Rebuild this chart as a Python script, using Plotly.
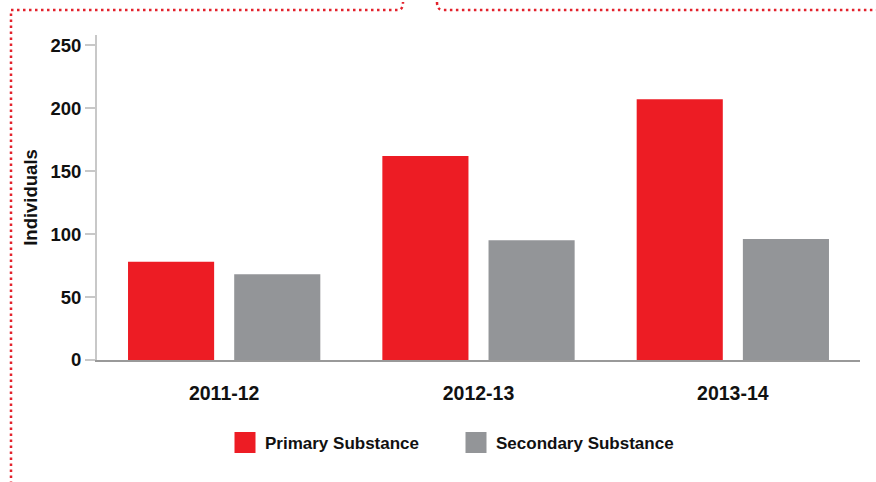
import plotly.graph_objects as go

categories = ["2011-12", "2012-13", "2013-14"]
primary = [78, 162, 207]
secondary = [68, 95, 96]
series_names = ["Primary Substance", "Secondary Substance"]
y_ticks = [0, 50, 100, 150, 200, 250]

RED = "#ed1c24"
GRAY = "#939598"
FONT = "Liberation Sans, Arial, sans-serif"

W, H = 876, 482
L, R, T, B = 97, 16, 35, 122
PW, PH = W - L - R, H - T - B


def px(x):
    return (x - L) / PW


def py(y):
    return (H - B - y) / PH


fig = go.Figure()
fig.add_trace(go.Bar(x=categories, y=primary, name=series_names[0],
                     marker=dict(color=RED, line=dict(width=0)), showlegend=False))
fig.add_trace(go.Bar(x=categories, y=secondary, name=series_names[1],
                     marker=dict(color=GRAY, line=dict(width=0)), showlegend=False))
# legend proxies (larger square swatches)
for name, col in zip(series_names, [RED, GRAY]):
    fig.add_trace(go.Scatter(x=[categories[0]], y=[None], mode="markers", name=name,
                             marker=dict(symbol="square", size=16, color=col,
                                         line=dict(color=col, width=5))))

# dotted frame
frame_left = (f"M {px(11)},{py(490)} L {px(11)},{py(10)} L {px(399)},{py(10)} "
              f"Q {px(403)},{py(9)} {px(403)},{py(2)}")
frame_right = (f"M {px(437)},{py(2)} Q {px(437)},{py(10)} {px(443)},{py(10)} "
               f"L {px(880)},{py(10)}")
shapes = []
for p in (frame_left, frame_right):
    shapes.append(dict(type="path", path=p, xref="paper", yref="paper",
                       line=dict(color="#e3222c", width=2.5, dash="2.5px,3.5px")))

fig.update_layout(
    width=W, height=H,
    margin=dict(l=L, r=R, t=T, b=B, autoexpand=False),
    paper_bgcolor="white", plot_bgcolor="white",
    font=dict(family=FONT, color="#111111", size=17),
    barmode="group", bargap=0.165, bargroupgap=0.189,
    shapes=shapes,
    legend=dict(orientation="h", x=px(225), xanchor="left", y=py(443), yanchor="middle",
                font=dict(family=FONT, size=17, color="#111111", weight="bold"),
                itemclick=False, entrywidth=186, entrywidthmode="pixels",
                bgcolor="rgba(0,0,0,0)"),
    xaxis=dict(type="category", showgrid=False, showline=True, linecolor="#999999",
               linewidth=1.5, ticks="", ticklabelstandoff=15,
               tickfont=dict(family=FONT, size=19.5, weight="bold"),
               range=[-0.5, 2.5], fixedrange=True),
    yaxis=dict(range=[0, 258], tickvals=y_ticks, showgrid=False, zeroline=False,
               showline=True, linecolor="#c8c8c8", linewidth=2,
               ticks="outside", ticklen=10, tickcolor="#c8c8c8", tickwidth=2,
               tickfont=dict(family=FONT, size=18.5, weight="bold"),
               title=dict(text="Individuals", font=dict(family=FONT, size=18.5, weight="bold"),
                          standoff=8),
               fixedrange=True),
)

fig.write_html("out.html", config={"displayModeBar": False},
               post_script="document.body.style.margin='0';document.body.style.overflow='hidden';")
